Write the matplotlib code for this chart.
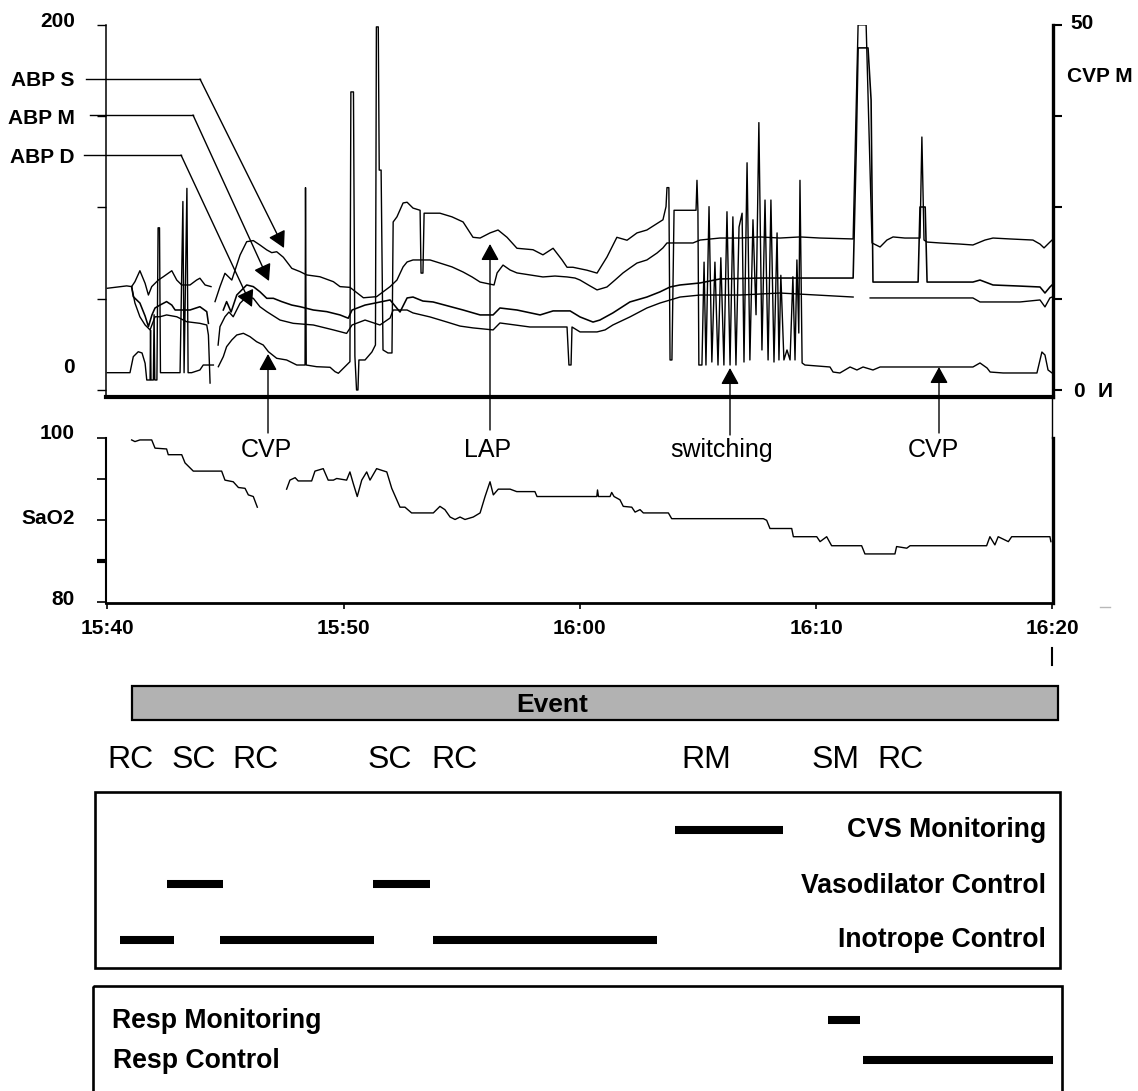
import numpy as np
import matplotlib
matplotlib.use("Agg")
import matplotlib.pyplot as plt
from matplotlib.patches import Rectangle

plt.rcParams['font.family'] = ['Liberation Sans', 'DejaVu Sans']

nan = np.nan

# all times are minutes after 15:40
time_ticks = [0, 10, 20, 30, 40]
time_labels = ['15:40', '15:50', '16:00', '16:10', '16:20']

# arterial pressures (left axis, mmHg)
abp_s = [(0.0, 55.7), (0.82, 57.0), (1.03, 56.6), (1.17, 59.3), (1.38, 65.3), (1.60, 58.4),
         (1.74, 52.0), (1.88, 56.6), (2.16, 60.2), (2.37, 62.0), (2.73, 65.3), (2.94, 60.2),
         (3.15, 57.5), (3.50, 57.5), (3.78, 60.2), (3.92, 61.2), (4.14, 57.5), (4.39, 56.6),
         (4.45, nan),
         (4.56, 48.4), (4.77, 56.6), (4.98, 63.9), (5.27, 60.2), (5.41, 65.7), (5.62, 73.9),
         (5.90, 81.2), (6.18, 81.8), (6.46, 79.4), (6.75, 76.7), (6.96, 75.2), (7.17, 75.7),
         (7.45, 72.7), (7.81, 66.6), (8.16, 64.8), (8.44, 63.0), (9.00, 62.0), (9.57, 59.3),
         (9.85, 56.6), (10.27, 56.2), (10.84, 50.5), (11.40, 51.1), (11.97, 56.6), (12.26, 60.2),
         (12.52, 67.4), (12.69, 70.1), (12.94, 71.2), (13.36, 71.2), (13.66, 71.2), (14.08, 69.5),
         (14.59, 67.4), (15.06, 64.6), (15.44, 61.9), (15.78, 59.1), (16.37, 57.5), (16.50, 64.1),
         (16.75, 68.4), (17.05, 65.7), (17.34, 64.1), (17.89, 63.0), (18.44, 61.9), (18.95, 62.4),
         (19.46, 61.9), (19.80, 61.3), (20.01, 60.2), (20.43, 57.0), (20.73, 54.8), (21.15, 56.4),
         (21.49, 60.2), (21.83, 64.1), (22.12, 66.8), (22.42, 69.5), (22.84, 71.2), (23.27, 75.0),
         (23.52, 77.8), (23.69, 80.5), (24.24, 80.5), (24.79, 80.5), (25.09, 82.1), (25.93, 83.2),
         (26.78, 83.2), (27.63, 83.8), (28.47, 83.2), (29.32, 83.8), (30.17, 83.2), (31.57, 82.7),
         (31.78, 199.9), (32.12, 199.9), (32.37, 80.5), (32.71, 78.3), (33.00, 82.1), (33.26, 83.8),
         (33.76, 83.2), (34.40, 83.2), (34.48, 138.5), (34.57, 82.1), (34.70, 81.0), (35.25, 80.5),
         (36.09, 79.9), (36.64, 79.4), (37.15, 82.1), (37.49, 83.2), (38.21, 82.7), (39.18, 82.1),
         (39.48, 79.9), (39.65, 77.8), (39.90, 81.0), (39.99, 82.1)]

abp_m = [(1.03, 56.6), (1.10, 51.1), (1.38, 47.6), (1.60, 40.5), (1.74, 34.7), (1.89, 41.1),
         (2.02, 44.9), (2.23, 46.5), (2.51, 48.4), (2.73, 46.5), (2.87, 43.8), (3.15, 43.8),
         (3.50, 43.8), (3.92, 45.6), (4.21, 42.9), (4.28, 36.5),
         (4.40, nan),
         (4.91, 43.8), (5.05, 48.4), (5.24, 42.7), (5.48, 52.0), (5.90, 57.5), (6.18, 56.6),
         (6.46, 53.8), (6.75, 50.2), (7.03, 50.2), (7.38, 48.4), (7.81, 46.5), (8.16, 45.6),
         (8.72, 43.8), (9.29, 42.9), (9.85, 41.1), (10.20, 39.3), (10.36, 43.8), (10.91, 46.5),
         (11.33, 47.6), (11.97, 49.3), (12.39, 42.7), (12.69, 50.4), (12.94, 50.9), (13.36, 48.7),
         (13.79, 48.2), (15.06, 43.8), (15.78, 41.1), (16.33, 41.1), (16.62, 44.9), (17.34, 43.8),
         (18.32, 41.1), (18.87, 43.3), (19.59, 43.3), (20.01, 40.0), (20.56, 37.2), (20.85, 38.3),
         (21.40, 42.2), (22.12, 48.2), (22.84, 50.9), (23.39, 53.7), (23.82, 56.4), (24.24, 57.5),
         (25.09, 58.6), (25.93, 60.8), (27.63, 61.3), (29.32, 61.3), (31.57, 61.3), (31.70, 131.4),
         (31.78, 187.3), (32.20, 187.3), (32.33, 158.8), (32.41, 59.1), (33.55, 59.1), (34.32, 59.1),
         (34.40, 100.2), (34.62, 100.2), (34.70, 59.1), (36.64, 59.1), (36.94, 60.2), (37.49, 57.5),
         (38.63, 56.9), (39.48, 56.4), (39.69, 53.1), (39.90, 56.4), (39.99, 57.5)]

abp_d = [(1.03, 56.6), (1.17, 47.6), (1.38, 40.1), (1.60, 35.6), (1.81, 32.9), (2.02, 40.1),
         (2.23, 40.1), (2.51, 41.1), (2.94, 40.1), (3.36, 37.4), (3.92, 36.5), (4.21, 35.6),
         (4.28, 30.1), (4.35, 3.8),
         (4.50, nan),
         (4.69, 24.6), (4.77, 34.7), (4.98, 40.1), (5.15, 42.7), (5.33, 40.1), (5.62, 47.5),
         (5.90, 51.1), (6.18, 50.2), (6.46, 45.6), (6.75, 42.9), (7.31, 38.3), (7.87, 36.5),
         (8.72, 35.6), (9.57, 32.9), (10.13, 31.0), (10.36, 35.6), (10.91, 38.3), (11.54, 35.6),
         (11.97, 39.4), (12.10, 43.8), (12.69, 43.8), (12.94, 42.2), (13.66, 40.0), (14.38, 37.2),
         (14.93, 35.0), (15.48, 34.0), (16.33, 32.9), (16.62, 36.7), (17.26, 35.6), (17.89, 34.5),
         (19.46, 34.5), (19.54, 13.7), (19.63, 13.7), (19.67, 34.5), (20.01, 31.8), (20.73, 31.8),
         (21.07, 32.9), (21.40, 35.6), (22.12, 40.0), (22.84, 44.9), (23.39, 47.6), (24.24, 50.9),
         (25.09, 52.0), (26.78, 52.0), (28.47, 53.1), (31.57, 50.9),
         (31.90, nan),
         (32.29, 50.4), (36.64, 50.4), (36.94, 48.2), (38.63, 48.2), (39.48, 49.3), (39.69, 45.5),
         (39.90, 50.4), (39.99, 50.9)]

# CVP / LAP trace (right axis)
cvp = [(0.0, 2.37), (0.96, 2.37), (1.10, 4.56), (1.31, 5.24), (1.47, 5.07), (1.60, 3.66),
       (1.67, 1.37), (1.81, 1.37), (1.83, 8.2), (1.85, 1.37), (1.95, 1.37), (1.98, 10.3),
       (2.01, 1.37), (2.10, 1.37), (2.15, 22.2), (2.21, 22.2), (2.25, 2.37), (2.65, 2.37),
       (3.08, 2.37), (3.20, 25.8), (3.25, 2.37), (3.37, 27.6), (3.42, 2.37), (3.57, 2.37),
       (3.92, 2.74), (4.06, 3.42), (4.49, 3.42),
       (4.60, nan),
       (4.70, 3.19), (4.91, 4.56), (5.05, 5.93), (5.27, 6.85), (5.48, 7.53), (5.76, 7.76),
       (6.04, 7.30), (6.32, 6.61), (6.60, 6.16), (6.82, 5.24), (7.17, 4.34), (7.59, 4.11),
       (8.02, 3.42), (8.37, 3.42), (8.39, 27.7), (8.42, 3.42), (8.86, 3.19), (9.43, 3.11),
       (9.64, 2.51), (9.78, 2.29), (9.99, 2.97), (10.27, 3.87), (10.31, 40.8), (10.42, 40.8),
       (10.48, 4.65), (10.55, 0.0), (10.61, 0.0), (10.65, 4.11), (10.91, 4.11), (11.20, 5.20),
       (11.35, 6.16), (11.39, 49.7), (11.47, 49.7), (11.51, 30.1), (11.59, 30.1), (11.67, 5.48),
       (11.88, 5.07), (12.05, 5.07), (12.10, 23.0), (12.26, 23.7), (12.52, 25.6), (12.69, 25.7),
       (12.94, 24.9), (13.24, 24.6), (13.28, 16.0), (13.36, 16.0), (13.41, 24.2), (13.53, 24.2),
       (14.08, 24.2), (14.59, 23.7), (15.06, 23.0), (15.48, 20.9), (15.78, 20.8), (16.20, 21.5),
       (16.54, 21.9), (16.92, 20.9), (17.34, 19.4), (18.02, 19.2), (18.44, 18.5), (18.87, 19.4),
       (19.25, 17.8), (19.46, 16.8), (19.71, 16.8), (20.30, 16.4), (20.73, 16.0), (21.15, 18.2),
       (21.57, 20.9), (22.00, 20.5), (22.42, 21.5), (22.84, 21.9), (23.52, 23.3), (23.65, 25.1),
       (23.69, 27.7), (23.77, 27.7), (23.82, 4.11), (23.90, 4.11), (23.99, 24.6), (24.11, 24.6),
       (24.66, 24.6), (24.92, 24.6), (24.96, 28.7), (25.00, 24.6),
       (25.04, 3.42), (25.17, 3.42), (25.26, 17.5), (25.34, 3.42), (25.47, 25.1), (25.59, 3.83),
       (25.72, 17.5), (25.85, 3.42), (25.97, 18.1), (26.10, 3.42), (26.23, 24.4), (26.36, 3.42),
       (26.48, 23.7), (26.61, 3.42), (26.74, 22.3), (26.87, 24.2), (26.95, 3.83), (27.08, 31.1),
       (27.20, 4.11), (27.33, 23.3), (27.46, 10.3), (27.58, 36.6), (27.71, 5.48), (27.84, 26.0),
       (27.97, 4.11), (28.09, 26.0), (28.22, 3.83), (28.35, 21.5), (28.43, 4.11), (28.51, 15.7),
       (28.64, 4.11), (28.77, 5.48), (28.90, 4.11), (29.02, 15.5), (29.11, 4.11), (29.19, 17.8),
       (29.27, 7.80), (29.32, 28.7), (29.41, 3.70), (29.53, 3.42), (30.59, 3.15), (30.72, 2.46),
       (31.01, 2.33), (31.44, 3.15), (31.73, 2.74), (31.99, 3.15), (32.41, 2.74), (32.71, 3.15),
       (36.64, 3.15), (36.94, 3.70), (37.24, 3.01), (37.37, 2.46), (37.92, 2.33), (39.35, 2.33),
       (39.56, 5.20), (39.69, 4.79), (39.82, 2.74), (39.99, 2.33)]

sao2 = [(1.03, 99.8), (1.17, 99.6), (1.38, 99.8), (1.88, 99.8), (2.02, 98.8), (2.51, 98.7),
        (2.58, 98.0), (3.15, 98.0), (3.29, 97.0), (3.64, 96.0), (4.84, 96.0), (4.98, 94.9),
        (5.33, 94.7), (5.55, 94.0), (5.83, 93.9), (5.97, 93.1), (6.18, 92.9), (6.35, 91.6),
        (7.00, nan),
        (7.59, 93.8), (7.73, 94.9), (7.95, 95.2), (8.08, 94.8), (8.65, 94.8), (8.79, 96.0),
        (9.14, 96.3), (9.35, 94.9), (9.57, 94.9), (9.71, 95.1), (10.13, 94.9), (10.27, 95.9),
        (10.41, 94.5), (10.58, 92.9), (10.77, 94.9), (10.98, 95.9), (11.12, 94.9), (11.40, 96.3),
        (11.61, 96.1), (11.83, 95.9), (12.04, 93.9), (12.39, 91.6), (12.60, 91.6), (12.88, 90.9),
        (13.80, 90.9), (14.08, 91.7), (14.29, 91.3), (14.51, 90.4), (14.72, 90.1), (14.93, 90.4),
        (15.14, 90.1), (15.49, 90.4), (15.78, 90.9), (15.99, 92.9), (16.20, 94.7), (16.34, 93.1),
        (16.55, 93.8), (17.05, 93.8), (17.33, 93.5), (18.10, 93.5), (18.19, 92.9), (20.72, 92.9),
        (20.75, 93.7), (20.79, 92.9), (21.28, 92.9), (21.35, 93.4), (21.45, 92.9), (21.70, 92.5),
        (21.84, 91.7), (22.20, 91.6), (22.34, 91.0), (22.55, 91.3), (22.69, 90.9), (23.75, 90.9),
        (23.89, 90.2), (27.77, 90.2), (27.91, 90.0), (28.05, 89.0), (28.97, 89.0), (29.04, 88.0),
        (30.03, 88.0), (30.17, 87.4), (30.45, 88.0), (30.66, 86.9), (31.93, 86.9), (32.07, 85.9),
        (33.34, 85.9), (33.41, 86.8), (33.84, 86.6), (33.98, 86.9), (37.22, 86.9), (37.36, 88.0),
        (37.57, 87.0), (37.71, 88.0), (38.14, 87.4), (38.28, 88.0), (39.90, 88.0), (39.94, 87.4)]

# event codes along the time line
event_codes = ['RC', 'SC', 'RC', 'SC', 'RC', 'RM', 'SM', 'RC']
event_code_t = [0.0, 2.7, 5.3, 11.0, 13.7, 24.3, 29.8, 32.6]

# control / monitoring activity periods (start, end) in minutes
cvs_monitoring = [(24.03, 28.59)]
vasodilator_control = [(2.54, 4.88), (11.26, 13.66)]
inotrope_control = [(0.54, 2.82), (4.77, 11.29), (13.80, 23.25)]
resp_monitoring = [(30.50, 31.86)]
resp_control = [(32.00, 40.02)]

W, H = 1138, 1091
T0, T1 = -0.055, 40.03


def fx(px):
    return px / W


def fy(py):
    return 1 - py / H


def xy(pairs):
    a = np.array(pairs, dtype=float)
    return a[:, 0], a[:, 1]


fig = plt.figure(figsize=(W / 100, H / 100), dpi=100)

# ---- top panel: pressures
ax = fig.add_axes([fx(106), fy(397), (1053 - 106) / W, (397 - 24.7) / H])
ax.set_xlim(T0, T1)
ax.set_ylim(-3.83, 200)
for sp in ['top', 'right']:
    ax.spines[sp].set_visible(False)
ax.spines['left'].set_linewidth(1.1)
ax.spines['bottom'].set_linewidth(3.0)
ax.set_xticks([])
ax.set_yticks([0, 50, 100, 150, 200])
ax.tick_params(axis='y', direction='out', length=6.5, width=1.0, labelleft=False)

for series, w in [(abp_s, 1.0), (abp_m, 1.15), (abp_d, 1.0)]:
    t, v = xy(series)
    ax.plot(t, v, color='k', lw=w)

ax2 = ax.twinx()
ax2.set_ylim(-3.83 / 4, 50)
for sp in ['top', 'left', 'bottom']:
    ax2.spines[sp].set_visible(False)
ax2.spines['right'].set_linewidth(2.4)
ax2.set_yticks([0, 12.5, 25, 37.5, 50])
ax2.tick_params(axis='y', direction='out', length=6.5, width=1.5, labelright=False)
t, v = xy(cvp)
ax2.plot(t, v, color='k', lw=1.0)

# ---- SaO2 panel
bx = fig.add_axes([fx(106), fy(603.3), (1053 - 106) / W, (603.3 - 438.3) / H])
bx.set_xlim(T0, T1)
bx.set_ylim(79.88, 100)
bx.spines['top'].set_visible(False)
bx.spines['left'].set_linewidth(1.5)
bx.spines['bottom'].set_linewidth(2.0)
bx.spines['right'].set_linewidth(2.4)
bx.set_yticks([80, 85, 90, 95, 100])
bx.tick_params(axis='y', direction='out', length=6.5, width=1.2, labelleft=False)
bx.yaxis.get_major_ticks()[1].tick1line.set_markeredgewidth(3)
bx.set_xticks(time_ticks)
bx.set_xticklabels(time_labels, fontsize=15, fontweight='bold')
bx.tick_params(axis='x', direction='out', length=4, width=1.2, pad=7)
t, v = xy(sao2)
bx.plot(t, v, color='k', lw=1.0)

# ---- overlay in pixel coordinates for labels and boxes
ov = fig.add_axes([0, 0, 1, 1], zorder=5)
ov.set_xlim(0, W)
ov.set_ylim(H, 0)
ov.axis('off')

bold = dict(fontsize=15, fontweight='bold', va='baseline')
ov.text(75, 26.7, '200', ha='right', **bold)
ov.text(75, 86, 'ABP S', ha='right', **bold)
ov.text(75, 124, 'ABP M', ha='right', **bold)
ov.text(75, 162.7, 'ABP D', ha='right', **bold)
ov.text(75, 373.3, '0', ha='right', **bold)
ov.text(1070, 29.3, '50', ha='left', **bold)
ov.text(1066.7, 81.7, 'CVP M', ha='left', **bold)
ov.text(1073, 396.7, '0', ha='left', **bold)
ov.text(1098, 396.7, 'И', ha='left', **bold)
ov.text(75, 439.3, '100', ha='right', **bold)
ov.text(75, 524, 'SaO2', ha='right', **bold)
ov.text(75, 605, '80', ha='right', **bold)

arrow = dict(arrowstyle='-|>,head_length=0.4,head_width=0.22', mutation_scale=25,
             color='k', lw=1.0, shrinkA=0, shrinkB=0)
# leaders for the ABP labels
for x0, x1, yl, tip in [(86, 200, 79, (284, 248)), (90, 193, 115, (269, 281)),
                        (84, 181, 155, (252, 307))]:
    ov.plot([x0, x1], [yl, yl], color='k', lw=1.0)
    ov.annotate('', xy=tip, xytext=(x1, yl), arrowprops=arrow)

# vertical pointers with their labels
for xa, ytip, ybot, lab, xl in [(268, 354, 433, 'CVP', 266),
                                (490, 244, 430, 'LAP', 488),
                                (730, 368, 435, 'switching', 722),
                                (939, 367, 433, 'CVP', 933)]:
    ov.annotate('', xy=(xa, ytip), xytext=(xa, ybot), arrowprops=arrow)
    ov.text(xl, 456.7, lab, fontsize=18, ha='center', va='baseline')

# right edge pieces between panels
ov.plot([1052.5, 1052.5], [397, 438], color='k', lw=1.0)
ov.plot([1052.5, 1052.5], [648, 665], color='k', lw=1.5)
ov.plot([1100, 1110], [607, 607], color='#b8b8b8', lw=1.0)

# event header and boxes
ov.add_patch(Rectangle((131.7, 686), 1058 - 131.7, 34, facecolor='#b2b2b2',
                       edgecolor='k', lw=1.6))
ov.text(552.5, 711.7, 'Event', fontsize=19, fontweight='bold', ha='center', va='baseline')
ov.add_patch(Rectangle((95, 791.7), 1060 - 95, 968.3 - 791.7, fill=False,
                       edgecolor='k', lw=1.9))
ov.add_patch(Rectangle((92.7, 985.7), 1061.7 - 92.7, 200, fill=False,
                       edgecolor='k', lw=1.9))

lab = dict(fontsize=19.2, fontweight='bold', va='baseline')
ov.text(1046, 836.7, 'CVS Monitoring', ha='right', **lab)
ov.text(1046, 893.3, 'Vasodilator Control', ha='right', **lab)
ov.text(1046, 947, 'Inotrope Control', ha='right', **lab)
ov.text(111.7, 1028.3, 'Resp Monitoring', ha='left', **lab)
ov.text(113.3, 1068, 'Resp Control', ha='left', **lab)

# ---- bars and event codes on the time scale
ev = fig.add_axes([fx(106), 0, (1053 - 106) / W, 1], zorder=4)
ev.set_xlim(T0, T1)
ev.set_ylim(H, 0)
ev.axis('off')

for code, tc in zip(event_codes, event_code_t):
    ev.text(tc, 768.3, code, fontsize=23, ha='left', va='baseline')

for periods, yrow in [(cvs_monitoring, 830), (vasodilator_control, 884),
                      (inotrope_control, 940), (resp_monitoring, 1020),
                      (resp_control, 1060)]:
    starts = [p[0] for p in periods]
    ends = [p[1] for p in periods]
    lc = ev.hlines([yrow] * len(periods), starts, ends, color='k', lw=5.8)
    lc.set_capstyle('butt')

fig.savefig('out.png', dpi=100)
